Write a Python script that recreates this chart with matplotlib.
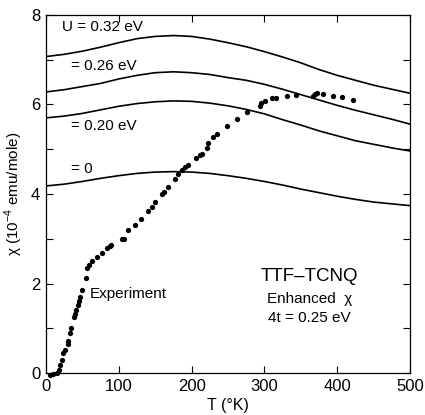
import matplotlib
matplotlib.use('Agg')
import matplotlib.pyplot as plt

plt.rcParams['font.family'] = ['Liberation Sans', 'DejaVu Sans']
plt.rcParams['mathtext.fontset'] = 'custom'
plt.rcParams['mathtext.rm'] = 'Liberation Sans'

# theory curves, chi vs T for several U
T_theory = [0, 25, 50, 75, 100, 125, 150, 175, 200, 225, 250,
            275, 300, 325, 350, 375, 400, 425, 450, 475, 500]
chi_u032 = [7.07, 7.12, 7.19, 7.28, 7.38, 7.47, 7.52, 7.54, 7.52, 7.46, 7.38,
            7.29, 7.18, 7.06, 6.93, 6.78, 6.65, 6.54, 6.43, 6.34, 6.25]
chi_u026 = [6.28, 6.33, 6.40, 6.47, 6.57, 6.65, 6.71, 6.73, 6.71, 6.67, 6.60,
            6.54, 6.45, 6.34, 6.22, 6.10, 5.98, 5.87, 5.77, 5.67, 5.56]
chi_u020 = [5.70, 5.74, 5.80, 5.88, 5.96, 6.02, 6.06, 6.08, 6.07, 6.03, 5.97,
            5.89, 5.79, 5.66, 5.54, 5.41, 5.30, 5.19, 5.11, 5.03, 4.96]
chi_u000 = [4.18, 4.22, 4.28, 4.35, 4.41, 4.46, 4.49, 4.50, 4.49, 4.46, 4.41,
            4.35, 4.28, 4.20, 4.11, 4.03, 3.95, 3.88, 3.82, 3.78, 3.74]

# experiment points
T_exp = [5, 10, 15, 18, 20, 22, 24, 26, 30, 31, 33, 34, 38, 40, 42, 44, 46, 47,
         50, 55, 57, 59, 63, 70, 77, 84, 88, 90, 104, 107, 113, 122, 130, 140,
         145, 150, 159, 162, 167, 177, 181, 187, 191, 195, 206, 212, 214, 221,
         223, 229, 235, 249, 262, 276, 294, 295, 301, 310, 316, 331, 343, 367,
         369, 372, 381, 394, 406, 421]
chi_exp = [-0.05, -0.03, 0.0, 0.08, 0.18, 0.30, 0.45, 0.51, 0.65, 0.72, 0.89,
           1.00, 1.25, 1.33, 1.42, 1.52, 1.62, 1.69, 1.85, 2.12, 2.35, 2.41,
           2.50, 2.59, 2.68, 2.79, 2.83, 2.86, 3.00, 3.00, 3.20, 3.30, 3.45,
           3.63, 3.70, 3.82, 4.00, 4.05, 4.16, 4.33, 4.45, 4.54, 4.60, 4.65,
           4.80, 4.87, 4.89, 5.03, 5.14, 5.27, 5.34, 5.52, 5.67, 5.83, 5.97,
           6.03, 6.08, 6.14, 6.14, 6.19, 6.21, 6.19, 6.23, 6.26, 6.23, 6.19,
           6.17, 6.10]

x_ticks = [0, 100, 200, 300, 400, 500]
y_ticks = [0, 1, 2, 3, 4, 5, 6, 7, 8]
y_labels = ['0', '', '2', '', '4', '', '6', '', '8']

fig = plt.figure(figsize=(4.25, 4.15), dpi=100)
ax = fig.add_axes([0.108, 0.101, 0.857, 0.863])

for chi in (chi_u032, chi_u026, chi_u020, chi_u000):
    ax.plot(T_theory, chi, color='black', lw=1.2)
ax.plot(T_exp, chi_exp, 'o', color='black', ms=3.8, mew=0, clip_on=False)

ax.set_xlim(0, 500)
ax.set_ylim(0, 8)
ax.set_xticks(x_ticks)
ax.set_yticks(y_ticks)
ax.set_yticklabels(y_labels)
ax.tick_params(direction='in', top=True, right=True, length=5, width=0.8,
               labelsize=12, pad=4)
for s in ax.spines.values():
    s.set_linewidth(0.9)

ax.set_xlabel('T (°K)', fontsize=11.5, labelpad=3)
ax.set_ylabel('χ (10$^{-4}$ emu/mole)', fontsize=11, labelpad=4)

ax.text(22, 7.72, 'U = 0.32 eV', fontsize=11, va='center')
ax.text(35, 6.85, '= 0.26 eV', fontsize=11, va='center')
ax.text(35, 5.52, '= 0.20 eV', fontsize=11, va='center')
ax.text(35, 4.55, '= 0', fontsize=11, va='center')
ax.text(60, 1.77, 'Experiment', fontsize=11, va='center')
ax.text(362, 2.15, 'TTF\u2013TCNQ', fontsize=13.5, ha='center', va='center')
ax.text(362, 1.65, 'Enhanced  χ', fontsize=11, ha='center', va='center')
ax.text(362, 1.22, '4t = 0.25 eV', fontsize=11, ha='center', va='center')

fig.savefig('out.png', dpi=100)
